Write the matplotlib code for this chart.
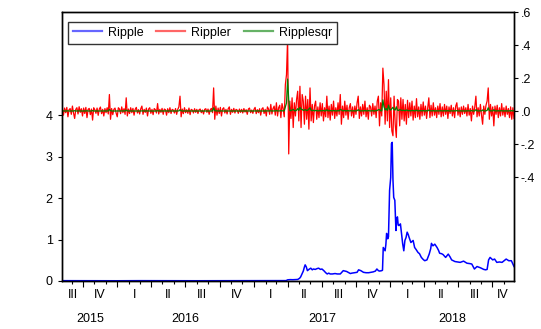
import numpy as np
import pandas as pd
import matplotlib
matplotlib.use('Agg')
from matplotlib import pyplot as plt
import matplotlib.dates as mdates
from matplotlib.ticker import FuncFormatter, FixedLocator

plt.rcParams['font.family'] = ['Liberation Sans', 'DejaVu Sans']

# Ripple price (left axis)
price_dates = [
    '2015-08-07', '2015-09-01', '2015-10-01', '2015-11-01', '2015-12-01',
    '2016-01-01', '2016-02-01', '2016-03-01', '2016-04-01', '2016-05-01',
    '2016-06-01', '2016-07-01', '2016-08-01', '2016-09-01', '2016-10-01',
    '2016-11-01', '2016-12-01', '2017-01-01', '2017-02-01', '2017-03-01',
    '2017-03-20', '2017-03-28', '2017-04-01', '2017-04-08', '2017-04-15',
    '2017-04-22', '2017-04-28', '2017-05-03', '2017-05-06', '2017-05-10',
    '2017-05-13', '2017-05-16', '2017-05-18', '2017-05-21', '2017-05-24',
    '2017-05-28', '2017-06-02', '2017-06-06', '2017-06-09', '2017-06-14',
    '2017-06-19', '2017-06-23', '2017-06-28', '2017-07-02', '2017-07-08',
    '2017-07-12', '2017-07-16', '2017-07-20', '2017-07-24', '2017-07-30',
    '2017-08-06', '2017-08-12', '2017-08-20', '2017-08-24', '2017-08-28',
    '2017-09-02', '2017-09-06', '2017-09-12', '2017-09-16', '2017-09-20',
    '2017-09-28', '2017-10-04', '2017-10-08', '2017-10-14', '2017-10-21',
    '2017-10-28', '2017-11-04', '2017-11-10', '2017-11-16', '2017-11-22',
    '2017-11-26', '2017-11-30', '2017-12-03', '2017-12-09', '2017-12-11',
    '2017-12-13', '2017-12-15', '2017-12-18', '2017-12-20', '2017-12-22',
    '2017-12-25', '2017-12-27', '2017-12-29', '2017-12-30', '2018-01-02',
    '2018-01-04', '2018-01-06', '2018-01-08', '2018-01-10', '2018-01-13',
    '2018-01-16', '2018-01-18', '2018-01-20', '2018-01-22', '2018-01-24',
    '2018-01-28', '2018-01-31', '2018-02-03', '2018-02-06', '2018-02-09',
    '2018-02-12', '2018-02-15', '2018-02-18', '2018-02-20', '2018-02-25',
    '2018-03-03', '2018-03-07', '2018-03-11', '2018-03-16', '2018-03-20',
    '2018-03-25', '2018-03-30', '2018-04-03', '2018-04-09', '2018-04-15',
    '2018-04-19', '2018-04-21', '2018-04-25', '2018-04-30', '2018-05-06',
    '2018-05-10', '2018-05-13', '2018-05-18', '2018-05-22', '2018-05-29',
    '2018-06-05', '2018-06-10', '2018-06-14', '2018-06-23', '2018-06-30',
    '2018-07-07', '2018-07-16', '2018-07-25', '2018-08-02', '2018-08-07',
    '2018-08-14', '2018-08-21', '2018-08-30', '2018-09-08', '2018-09-13',
    '2018-09-17', '2018-09-21', '2018-09-25', '2018-10-02', '2018-10-07',
    '2018-10-13', '2018-10-20', '2018-10-27', '2018-11-07', '2018-11-14',
    '2018-11-21', '2018-11-28',
]
ripple = [
    0.0078, 0.0072, 0.0055, 0.0040, 0.0055,
    0.0060, 0.0075, 0.0080, 0.0072, 0.0063,
    0.0062, 0.0065, 0.0062, 0.0065, 0.0070,
    0.0085, 0.0075, 0.0064, 0.0063, 0.0064,
    0.0075, 0.0095, 0.028, 0.033, 0.031,
    0.033, 0.037, 0.065, 0.10, 0.18,
    0.24, 0.34, 0.39, 0.34, 0.25,
    0.28, 0.31, 0.27, 0.29, 0.28,
    0.30, 0.31, 0.28, 0.29, 0.24,
    0.20, 0.17, 0.19, 0.17, 0.17,
    0.18, 0.17, 0.17, 0.21, 0.25,
    0.24, 0.23, 0.20, 0.18, 0.19,
    0.20, 0.21, 0.27, 0.25, 0.21,
    0.20, 0.20, 0.21, 0.22, 0.24,
    0.29, 0.25, 0.24, 0.25, 0.26,
    0.81, 0.78, 0.73, 0.88, 1.15,
    1.02, 1.07, 1.75, 2.19, 2.50,
    3.32, 3.35, 2.45, 2.02, 1.95,
    1.22, 1.50, 1.55, 1.35, 1.34,
    1.38, 1.14, 0.90, 0.73, 0.98,
    1.05, 1.18, 1.12, 1.06, 0.93,
    0.98, 0.81, 0.76, 0.69, 0.66,
    0.57, 0.52, 0.49, 0.51, 0.65,
    0.78, 0.91, 0.85, 0.89, 0.81,
    0.74, 0.67, 0.66, 0.64, 0.57,
    0.65, 0.58, 0.51, 0.47, 0.46,
    0.45, 0.48, 0.43, 0.42, 0.41,
    0.29, 0.35, 0.32, 0.28, 0.27,
    0.28, 0.51, 0.57, 0.51, 0.53,
    0.45, 0.46, 0.45, 0.53, 0.49,
    0.49, 0.35,
]

# Rippler returns (right axis), one reading every 3 days from the start date
ret_start = '2015-08-07'
rippler = [
    0.012, -0.025, 0.018, -0.010, 0.022, -0.035, 0.008, 0.015, -0.020, 0.030,
    -0.012, -0.045, 0.010, 0.020, -0.018, 0.026, -0.008, 0.014, -0.030, 0.018,
    -0.015, 0.022, -0.040, 0.010, 0.016, -0.022, 0.012, -0.055, 0.020, 0.008,
    -0.014, 0.018, -0.026, 0.012, 0.024, -0.016, 0.010, -0.030, 0.015, -0.010,
    0.020, -0.018, 0.100, -0.050, 0.015, -0.022, 0.010, 0.018, -0.012, -0.035,
    0.020, 0.012, -0.016, 0.025, -0.010, 0.014, -0.020, 0.080, -0.030, 0.012,
    -0.015, 0.020, -0.010, 0.016, -0.025, 0.010, 0.022, -0.012, 0.008, -0.018,
    0.014, 0.030, -0.020, 0.010, -0.008, 0.018, -0.030, 0.012, 0.020, -0.014,
    0.010, -0.022, 0.015, 0.008, -0.012, 0.045, -0.018, 0.010, -0.008, 0.016,
    -0.020, 0.012, 0.008, -0.025, 0.014, -0.010, 0.020, -0.015, 0.010, 0.006,
    -0.012, 0.015, -0.020, 0.010, 0.025, 0.090, -0.035, 0.012, -0.016, 0.020,
    -0.010, 0.008, -0.014, 0.018, -0.022, 0.010, 0.006, -0.012, 0.014, -0.008,
    0.010, -0.015, 0.008, 0.012, -0.010, 0.006, -0.018, 0.010, 0.014, -0.008,
    0.012, -0.020, 0.008, 0.016, -0.010, 0.140, -0.050, 0.030, -0.025, 0.018,
    -0.015, 0.022, -0.030, 0.012, 0.020, -0.012, 0.010, -0.018, 0.014, 0.025,
    -0.020, 0.010, -0.008, 0.016, -0.012, 0.010, 0.006, -0.014, 0.012, -0.008,
    0.010, -0.012, 0.015, -0.006, 0.008, -0.020, 0.012, 0.018, -0.010, 0.006,
    -0.014, 0.010, 0.022, -0.016, 0.008, -0.010, 0.014, -0.025, 0.012, 0.020,
    -0.015, 0.010, -0.030, 0.025, 0.012, -0.020, 0.040, -0.018, 0.015, 0.030,
    -0.025, 0.050, -0.030, 0.020, 0.035, -0.040, 0.045, 0.015, -0.035, 0.160,
    0.220, 0.440, -0.260, 0.060, -0.045, 0.080, -0.100, 0.050, -0.030, 0.070,
    0.120, -0.060, 0.150, -0.100, 0.100, 0.060, -0.080, 0.090, -0.050, 0.070,
    -0.110, 0.140, -0.060, 0.040, -0.070, 0.030, 0.060, -0.050, 0.025, -0.040,
    0.050, -0.030, 0.045, -0.060, 0.020, -0.035, 0.090, -0.040, 0.030, -0.055,
    0.040, -0.025, 0.060, -0.045, 0.020, -0.030, 0.050, -0.020, 0.100, -0.080,
    0.030, -0.040, 0.060, -0.025, 0.035, -0.050, 0.020, 0.045, -0.030, 0.025,
    -0.040, 0.030, -0.020, 0.050, 0.090, -0.045, 0.025, -0.030, 0.040, -0.020,
    0.060, -0.035, 0.020, -0.050, 0.035, 0.025, -0.030, 0.045, -0.020, 0.030,
    -0.040, 0.060, 0.090, -0.090, 0.050, -0.030, 0.260, 0.160, -0.080, 0.120,
    -0.060, 0.190, -0.100, 0.080, -0.120, -0.150, 0.090, -0.080, -0.160, 0.070,
    0.060, -0.090, 0.080, -0.050, 0.070, -0.060, 0.040, -0.080, 0.065, -0.040,
    0.050, -0.030, 0.060, -0.055, 0.030, -0.040, 0.075, -0.035, 0.025, -0.050,
    0.040, -0.030, 0.055, -0.025, 0.030, -0.045, 0.020, 0.080, -0.040, 0.035,
    -0.030, 0.050, -0.025, 0.020, -0.040, 0.030, -0.020, 0.045, -0.035, 0.025,
    -0.030, 0.040, -0.020, 0.030, -0.045, 0.025, -0.015, 0.035, -0.030, 0.020,
    -0.040, 0.030, 0.050, -0.025, 0.020, -0.035, 0.025, -0.020, 0.030, -0.015,
    0.020, -0.030, 0.040, -0.025, 0.015, -0.060, 0.030, -0.020, 0.025, 0.090,
    -0.035, 0.020, -0.030, 0.040, -0.025, -0.080, 0.030, -0.020, 0.035, 0.060,
    0.140, -0.050, 0.040, -0.030, 0.025, -0.090, 0.030, -0.020, 0.035, -0.040,
    0.020, -0.030, 0.045, -0.025, 0.020, -0.035, 0.030, -0.020, 0.015, -0.040,
    0.025, -0.050, 0.020, -0.045,
]
# squared returns
ripplesqr = [r ** 2 for r in rippler]

quarter_names = ['I', 'II', 'III', 'IV']
x_start = pd.Timestamp('2015-08-07')
x_end = pd.Timestamp('2018-11-28')

pdates = pd.to_datetime(price_dates)
rdates = pd.date_range(ret_start, periods=len(rippler), freq='3D')

fig = plt.figure(figsize=(5.41, 3.29), dpi=100)
ax = fig.add_axes([0.1152, 0.1459, 0.8349, 0.8176])
ax2 = ax.twinx()

l1, = ax.plot(pdates, ripple, color='#0000ff', lw=1.1, label='Ripple')
l2, = ax2.plot(rdates, rippler, color='#ff0000', lw=0.9, label='Rippler')
l3, = ax2.plot(rdates, ripplesqr, color='#008000', lw=0.9, label='Ripplesqr')

ax.set_xlim(x_start, x_end)
ax.set_ylim(0, 6.5)
ax2.set_ylim(-1.03, 0.6)

ax.yaxis.set_major_locator(FixedLocator([0, 1, 2, 3, 4]))
ax.yaxis.set_major_formatter(FuncFormatter(lambda v, p: '%d' % v))
ax2.yaxis.set_major_locator(FixedLocator([-0.4, -0.2, 0.0, 0.2, 0.4, 0.6]))
ax2.yaxis.set_major_formatter(FuncFormatter(lambda v, p: ('%.1f' % v).replace('0.', '.')))

ax.tick_params(axis='y', direction='out', length=3, width=0.8, pad=4, labelsize=9)
ax2.tick_params(axis='y', direction='out', length=3, width=0.8, pad=2, labelsize=9)

ax.xaxis.set_major_locator(mdates.MonthLocator(bymonth=[1, 4, 7, 10]))
ax.xaxis.set_minor_locator(mdates.MonthLocator())
ax.xaxis.set_major_formatter(plt.NullFormatter())
ax.tick_params(axis='x', which='major', direction='out', length=4, width=0.8)
ax.tick_params(axis='x', which='minor', direction='out', length=2, width=0.8)

for a in (ax, ax2):
    for s in a.spines.values():
        s.set_linewidth(1.0)
        s.set_color('black')

# quarter and year labels, centred on the visible part of each period
xmin = mdates.date2num(x_start)
xmax = mdates.date2num(x_end)
trans = ax.get_xaxis_transform()
for q in pd.period_range('2015Q3', '2018Q4', freq='Q'):
    a0 = max(mdates.date2num(q.start_time), xmin)
    a1 = min(mdates.date2num(q.end_time), xmax)
    ax.text((a0 + a1) / 2, -0.052, quarter_names[q.quarter - 1], transform=trans,
            ha='center', va='center', fontsize=9)
for y in [2015, 2016, 2017, 2018]:
    a0 = max(mdates.date2num(pd.Timestamp(f'{y}-01-01')), xmin)
    a1 = min(mdates.date2num(pd.Timestamp(f'{y + 1}-01-01')), xmax)
    ax.text((a0 + a1) / 2, -0.141, str(y), transform=trans,
            ha='center', va='center', fontsize=9)

leg = ax2.legend([l1, l2, l3], ['Ripple', 'Rippler', 'Ripplesqr'], ncol=3,
                 loc='upper left', bbox_to_anchor=(0.0133, 0.964), borderaxespad=0,
                 fancybox=False, edgecolor='#333333', framealpha=1, fontsize=9,
                 handlelength=2.3, handletextpad=0.5, columnspacing=1.0, borderpad=0.4)
leg.get_frame().set_linewidth(1.0)
for h in leg.get_lines():
    h.set_linewidth(1.6)
    h.set_alpha(0.6)

fig.savefig('out.png', dpi=100)
